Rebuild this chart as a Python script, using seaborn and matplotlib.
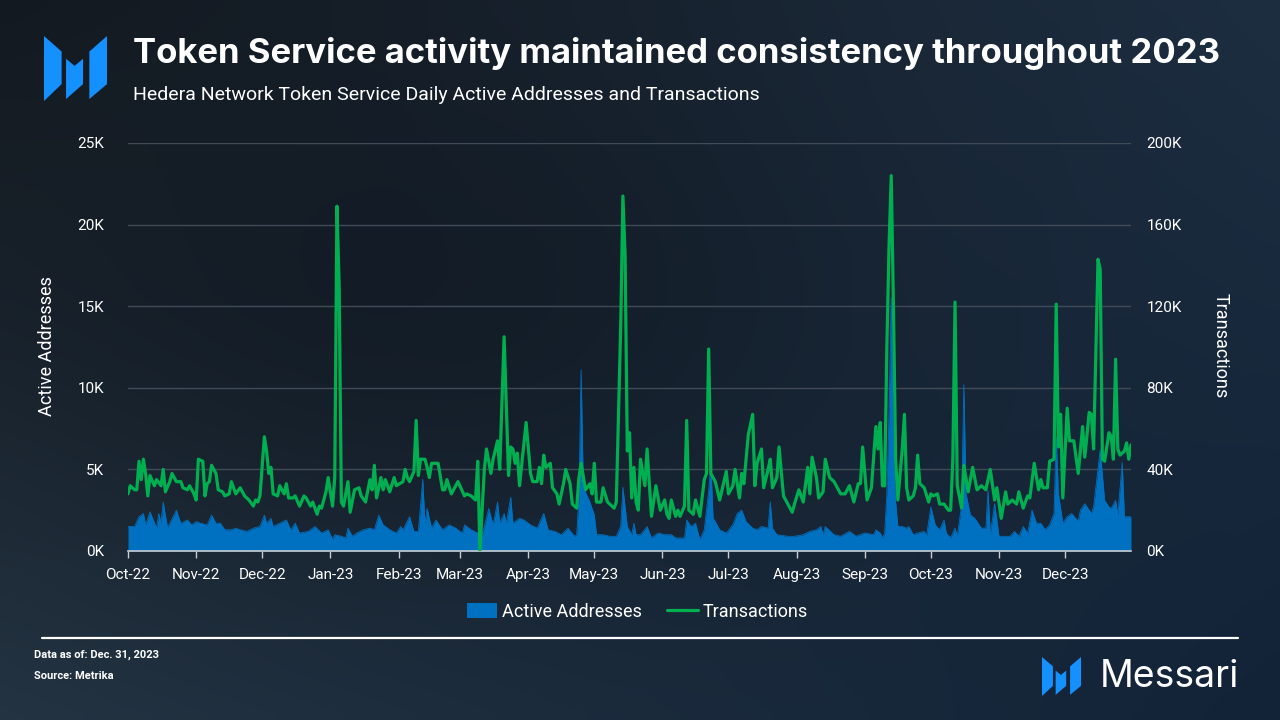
import numpy as np
import pandas as pd
import matplotlib
matplotlib.use("Agg")
import matplotlib.pyplot as plt
import matplotlib.dates as mdates
from matplotlib.ticker import FuncFormatter
from matplotlib.patches import Polygon, Patch
from matplotlib.lines import Line2D
import seaborn as sns

# ---------------- data ----------------
START = "2022-10-01"
END = "2023-12-31"

# Transactions: day offset from START, value in thousands
tx_day = [0, 1, 3, 4, 5, 6, 7, 8, 9, 10,
          12, 13, 15, 16, 17, 19, 20, 22, 24, 25,
          27, 28, 30, 31, 32, 34, 35, 36, 37, 38,
          40, 41, 43, 44, 46, 47, 49, 51, 53, 55,
          57, 58, 59, 60, 62, 63, 64, 65, 66, 68,
          69, 71, 72, 73, 75, 76, 78, 80, 81, 83,
          84, 86, 87, 88, 90, 91, 93, 94, 95, 96,
          97, 98, 100, 101, 103, 105, 106, 108, 110, 111,
          112, 113, 115, 116, 117, 119, 121, 122, 125, 126,
          127, 128, 130, 131, 132, 133, 135, 136, 137, 138,
          141, 143, 144, 145, 147, 148, 150, 153, 154, 156,
          158, 159, 160, 162, 163, 165, 166, 168, 169, 171,
          173, 174, 175, 176, 177, 178, 181, 183, 184, 186,
          187, 188, 189, 190, 192, 193, 195, 196, 198, 199,
          201, 202, 204, 205, 206, 208, 210, 211, 212, 213,
          215, 216, 218, 221, 222, 224, 225, 226, 227, 228,
          229, 230, 231, 232, 233, 235, 236, 238, 240, 242,
          244, 245, 246, 247, 249, 250, 251, 253, 254, 255,
          257, 258, 260, 262, 263, 264, 265, 267, 269, 272,
          273, 275, 276, 278, 279, 280, 282, 284, 285, 286,
          288, 289, 291, 292, 293, 295, 296, 298, 300, 302,
          303, 305, 307, 309, 310, 311, 313, 314, 316, 317,
          319, 321, 324, 326, 328, 330, 332, 333, 334, 336,
          338, 340, 341, 342, 343, 344, 345, 346, 347, 348,
          349, 350, 352, 353, 354, 355, 357, 358, 359, 360,
          362, 364, 365, 366, 368, 369, 371, 373, 374, 375,
          376, 377, 379, 380, 382, 384, 386, 388, 390, 392,
          394, 395, 397, 399, 400, 402, 404, 405, 407, 409,
          410, 412, 414, 415, 416, 418, 419, 421, 422, 423,
          424, 425, 427, 428, 430, 432, 434, 435, 437, 438,
          439, 441, 442, 443, 444, 446, 447, 448, 449, 450,
          451, 453, 454, 455, 456]
tx_k = [28, 32, 30, 30, 44, 35, 45, 38, 27, 37,
        32, 35, 32, 40, 29, 34, 38, 34, 34, 31,
        30, 32, 28, 25, 45, 44, 27, 33, 34, 42,
        38, 30, 29, 27, 28, 34, 28, 31, 27, 25,
        22, 25, 24, 27, 56, 49, 38, 41, 28, 27,
        32, 28, 33, 26, 26, 27, 22, 27, 26, 22,
        24, 18, 22, 21, 29, 36, 22, 36, 169, 130,
        24, 22, 34, 19, 30, 31, 27, 24, 35, 30,
        42, 26, 36, 30, 35, 29, 36, 32, 34, 40,
        36, 34, 39, 64, 37, 45, 45, 41, 36, 43,
        43, 30, 30, 35, 28, 30, 34, 27, 28, 27,
        25, 44, 0, 40, 50, 38, 45, 54, 40, 105,
        37, 51, 50, 43, 48, 32, 63, 38, 34, 34,
        41, 33, 47, 41, 43, 31, 28, 23, 33, 40,
        33, 23, 21, 36, 43, 30, 33, 28, 43, 24,
        24, 31, 24, 21, 24, 110, 174, 145, 49, 58,
        26, 41, 24, 20, 45, 32, 50, 17, 32, 20,
        25, 18, 16, 25, 17, 20, 17, 22, 64, 20,
        18, 25, 17, 35, 38, 99, 38, 34, 25, 39,
        28, 32, 40, 26, 38, 33, 57, 67, 32, 43,
        50, 31, 40, 45, 31, 36, 51, 27, 23, 19,
        23, 30, 24, 41, 28, 46, 36, 26, 29, 45,
        36, 34, 28, 28, 32, 24, 33, 33, 51, 25,
        31, 61, 50, 63, 32, 32, 100, 150, 184, 120,
        45, 25, 50, 67, 31, 25, 27, 31, 47, 33,
        31, 24, 28, 27, 28, 23, 23, 20, 20, 45,
        122, 32, 21, 42, 29, 41, 30, 32, 30, 40,
        25, 31, 16, 29, 23, 25, 23, 29, 21, 27,
        26, 43, 30, 35, 31, 31, 44, 45, 121, 51,
        67, 26, 70, 54, 54, 38, 61, 46, 68, 67,
        50, 143, 138, 45, 44, 58, 56, 45, 94, 50,
        47, 49, 53, 45, 52]

# Active addresses: day offset from START, value in thousands
aa_day = [0, 3, 5, 7, 8, 10, 13, 14, 15, 16,
          18, 19, 22, 24, 27, 29, 31, 33, 36, 38,
          40, 42, 44, 47, 49, 51, 54, 57, 60, 62,
          63, 65, 66, 69, 72, 74, 76, 78, 82, 85,
          88, 91, 93, 94, 97, 99, 100, 102, 104, 107,
          110, 112, 114, 116, 119, 122, 124, 125, 128, 130,
          132, 134, 135, 136, 138, 140, 143, 146, 149, 152,
          153, 156, 159, 160, 162, 164, 166, 168, 169, 171,
          172, 174, 175, 178, 180, 183, 186, 189, 191, 194,
          197, 200, 203, 204, 205, 206, 207, 209, 210, 212,
          213, 216, 219, 222, 224, 225, 227, 229, 230, 231,
          233, 236, 238, 241, 244, 247, 249, 253, 254, 256,
          258, 260, 262, 264, 265, 266, 267, 269, 272, 275,
          277, 279, 281, 284, 286, 288, 291, 292, 293, 295,
          300, 303, 307, 310, 313, 315, 316, 317, 321, 324,
          328, 331, 335, 339, 340, 342, 343, 344, 345, 346,
          347, 348, 349, 350, 352, 354, 355, 357, 359, 362,
          363, 365, 367, 369, 371, 372, 374, 376, 377, 379,
          380, 381, 383, 385, 388, 390, 391, 392, 394, 396,
          398, 401, 403, 405, 407, 409, 411, 413, 415, 417,
          419, 421, 422, 423, 425, 427, 429, 432, 433, 435,
          438, 439, 442, 444, 446, 447, 449, 450, 452, 453,
          456]
aa_k = [1.5, 1.5, 2.1, 2.3, 1.6, 2.4, 1.4, 2.3, 1.7, 3.0,
        1.4, 1.7, 2.5, 1.7, 1.9, 1.6, 1.8, 1.7, 1.6, 2.2,
        1.7, 1.7, 1.3, 1.3, 1.4, 1.3, 1.2, 1.4, 1.5, 2.2,
        1.7, 2.0, 1.5, 1.7, 1.9, 1.3, 1.7, 1.1, 1.2, 1.5,
        1.1, 1.3, 0.7, 1.0, 0.9, 0.8, 1.4, 0.9, 1.1, 1.3,
        1.4, 1.3, 2.2, 1.6, 1.3, 1.1, 1.5, 1.3, 2.1, 1.2,
        1.2, 4.4, 1.7, 2.6, 1.4, 1.9, 1.3, 1.6, 1.4, 1.1,
        1.6, 1.3, 1.1, 0.6, 1.5, 2.6, 1.6, 3.0, 1.7, 2.3,
        1.7, 3.3, 1.7, 2.0, 1.9, 1.6, 1.4, 2.3, 1.3, 1.2,
        1.0, 1.4, 0.9, 1.0, 3.3, 11.1, 3.9, 3.3, 3.0, 2.2,
        1.0, 1.0, 0.9, 0.9, 1.5, 3.9, 1.5, 1.0, 1.7, 1.0,
        1.0, 1.5, 0.8, 1.1, 1.0, 1.0, 0.8, 0.8, 1.9, 1.5,
        1.7, 0.7, 1.3, 3.7, 5.4, 2.0, 1.8, 1.3, 1.1, 1.6,
        2.3, 2.5, 1.8, 1.4, 1.3, 1.5, 1.4, 3.0, 1.4, 1.0,
        0.9, 0.9, 1.0, 1.2, 1.3, 1.5, 1.0, 1.5, 1.0, 0.9,
        1.2, 0.9, 1.1, 1.0, 1.3, 1.1, 0.8, 1.1, 3.5, 8.6,
        15.5, 6.0, 3.0, 1.5, 1.5, 1.4, 1.5, 1.0, 1.1, 1.2,
        0.9, 2.7, 1.6, 1.3, 1.9, 1.1, 0.8, 1.4, 0.9, 2.8,
        10.2, 3.5, 2.2, 2.0, 1.4, 1.4, 3.7, 1.0, 2.9, 0.9,
        0.9, 0.9, 1.2, 0.9, 1.5, 1.1, 2.5, 1.7, 1.7, 1.3,
        1.6, 2.3, 7.0, 3.5, 1.7, 2.1, 2.3, 1.8, 2.5, 2.9,
        2.3, 2.7, 6.2, 3.1, 2.7, 2.6, 3.1, 2.2, 5.4, 2.1,
        2.1]

series_labels = ["Active Addresses", "Transactions"]
left_ticks_k = [0, 5, 10, 15, 20, 25]
right_ticks_k = [0, 40, 80, 120, 160, 200]

TITLE = "Token Service activity maintained consistency throughout 2023"
SUBTITLE = "Hedera Network Token Service Daily Active Addresses and Transactions"

# ---------------- frames ----------------
start = pd.Timestamp(START)
tx_df = pd.DataFrame({"date": start + pd.to_timedelta(tx_day, unit="D"),
                      "value": np.array(tx_k) * 1000})
aa_df = pd.DataFrame({"date": start + pd.to_timedelta(aa_day, unit="D"),
                      "value": np.array(aa_k) * 1000})

BLUE = "#0070C0"
GREEN = "#00B050"
LOGO = "#1590FF"

sns.set_theme(style="dark")
plt.rcParams["font.family"] = ["Roboto", "DejaVu Sans"]

W, H = 1280, 720
fig = plt.figure(figsize=(12.8, 7.2), dpi=100)

# background gradient
bg = fig.add_axes([0, 0, 1, 1], zorder=-10)
bg.axis("off")
yy, xx = np.mgrid[0:1:90j, 0:1:160j]
TL = np.array([20, 26, 33]); TR = np.array([29, 46, 65])
BL = np.array([36, 52, 67]); BR = np.array([18, 35, 56])
img = (TL * ((1 - xx) * (1 - yy))[..., None] + TR * (xx * (1 - yy))[..., None]
       + BL * ((1 - xx) * yy)[..., None] + BR * (xx * yy)[..., None])
dark = np.exp(-(((xx - 0.33) / 0.35) ** 2 + ((yy - 0.45) / 0.38) ** 2))
img = img * (1 - 0.25 * dark[..., None])
bg.imshow(np.clip(img / 255, 0, 1), aspect="auto", extent=[0, 1, 0, 1],
          interpolation="bicubic")
bg.set_xlim(0, 1); bg.set_ylim(0, 1)

def px(x, y):
    return x / W, 1 - y / H

# main axes
ax = fig.add_axes([128 / W, 1 - 551 / H, (1131 - 128) / W, (551 - 143) / H])
ax.patch.set_alpha(0)
ax.fill_between(aa_df["date"], aa_df["value"], 0, color=BLUE, lw=0, zorder=2)
sns.lineplot(data=aa_df, x="date", y="value", ax=ax, color=BLUE, lw=0.6, zorder=3)
ax.set_ylim(0, 25000)
ax.set_yticks([v * 1000 for v in left_ticks_k])
ax.yaxis.set_major_formatter(FuncFormatter(lambda v, p: f"{int(v/1000)}K"))
ax.set_xlim(pd.Timestamp(START), pd.Timestamp(END))
ax.set_xticks(pd.date_range(START, "2023-12-01", freq="MS"))
ax.xaxis.set_major_formatter(mdates.DateFormatter("%b-%y"))
ax.set_xlabel(""); ax.set_ylabel("")
ax.grid(False)
ax.yaxis.grid(True, color="#414b57", lw=1)
ax.set_axisbelow(True)
for s in ["top", "left", "right"]:
    ax.spines[s].set_visible(False)
ax.spines["bottom"].set_color("#c9cdd2")
ax.spines["bottom"].set_linewidth(1.2)
ax.tick_params(axis="x", colors="#c9cdd2", labelcolor="white", length=5, width=1,
               labelsize=11, pad=7, direction="out", bottom=True)
ax.tick_params(axis="y", length=0, labelcolor="white", labelsize=11, pad=17)

ax2 = ax.twinx()
ax2.patch.set_alpha(0)
sns.lineplot(data=tx_df, x="date", y="value", ax=ax2, color=GREEN, lw=2.3)
ax2.set_ylim(0, 200000)
ax2.set_yticks([v * 1000 for v in right_ticks_k])
ax2.yaxis.set_major_formatter(FuncFormatter(lambda v, p: f"{int(v/1000)}K"))
ax2.set_xlim(pd.Timestamp(START), pd.Timestamp(END))
ax2.grid(False)
ax2.set_ylabel(""); ax2.set_xlabel("")
for s in ax2.spines.values():
    s.set_visible(False)
ax2.tick_params(axis="y", length=0, labelcolor="white", labelsize=11, pad=11)

# axis titles
fig.text(*px(47, 346), series_labels[0], rotation=90, color="white",
         fontsize=13, ha="center", va="center")
fig.text(*px(1221, 346), series_labels[1], rotation=270, color="white",
         fontsize=13, ha="center", va="center")

# title / subtitle
fig.text(*px(133, 54), TITLE, color="white", fontsize=25, fontweight="bold",
         family=["Inter", "DejaVu Sans"], ha="left", va="center")
fig.text(*px(133, 95), SUBTITLE, color="white", fontsize=14,
         ha="left", va="center")

# legend
handles = [Patch(facecolor=BLUE, edgecolor="none"),
           Line2D([0], [0], color=GREEN, lw=2.3)]
fig.legend(handles, series_labels, loc="center", bbox_to_anchor=px(637, 612),
           ncol=2, frameon=False, fontsize=13, labelcolor="white",
           handlelength=1.7, handleheight=0.9, handletextpad=0.25,
           columnspacing=1.4)

# footer
fig.add_artist(Line2D([42 / W, 1238 / W], [1 - 638 / H, 1 - 638 / H],
                      color="white", lw=1.6, transform=fig.transFigure))
fig.text(*px(34, 655), "Data as of: Dec. 31, 2023", color="white", fontsize=8,
         fontweight="bold", ha="left", va="center")
fig.text(*px(34, 676), "Source: Metrika", color="white", fontsize=8,
         fontweight="bold", ha="left", va="center")
fig.text(*px(1239, 677), "Messari", color="white", fontsize=27,
         family=["Inter", "DejaVu Sans"], ha="right", va="center")

# logos
LOGO_SHAPES = [
    [(0, 0), (0.28, 0.24), (0.28, 0.74), (0, 1.0)],
    [(0.35, 0.35), (0.485, 0.46), (0.62, 0.35), (0.62, 0.74), (0.35, 0.97)],
    [(0.72, 0.24), (1.0, 0.0), (1.0, 0.74), (0.72, 0.97)],
]

def draw_logo(x0, y0, w, h):
    for shp in LOGO_SHAPES:
        pts = [px(x0 + u * w, y0 + v * h) for u, v in shp]
        fig.add_artist(Polygon(pts, closed=True, facecolor=LOGO, edgecolor="none",
                               transform=fig.transFigure))

draw_logo(44, 36, 63, 65)
draw_logo(1042, 657, 39, 39)

fig.savefig("out.png", dpi=100)
